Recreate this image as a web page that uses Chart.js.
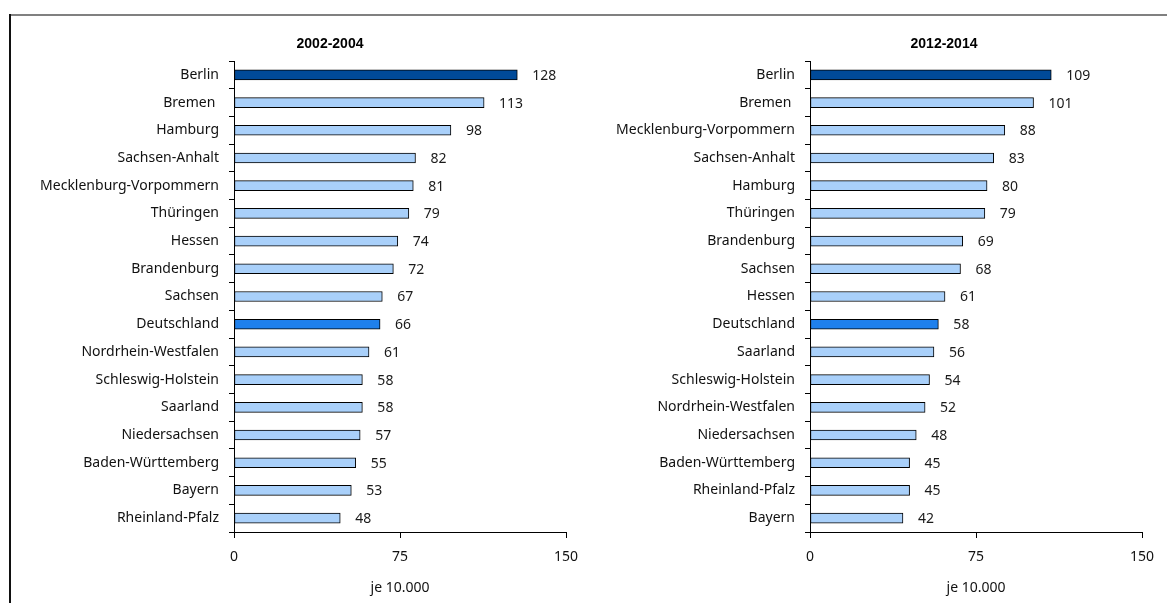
<!DOCTYPE html>
<html>
<head>
<meta charset="utf-8">
<script src="https://cdn.jsdelivr.net/npm/chart.js@4.4.1/dist/chart.umd.min.js"></script>
<style>
  html, body { margin: 0; padding: 0; background: #ffffff; }
  body { width: 1167px; height: 603px; position: relative; overflow: hidden; }
  .frameTop { position: absolute; left: 9px; top: 14px; width: 1158px; height: 2px; background: #808080; }
  .frameLeft { position: absolute; left: 9px; top: 14px; width: 2px; height: 589px; background: #111111; }
  #wrapL { position: absolute; left: 0; top: 0; width: 590px; height: 603px; }
  #wrapR { position: absolute; left: 590px; top: 0; width: 577px; height: 603px; }
</style>
</head>
<body>
<div class="frameTop"></div>
<div class="frameLeft"></div>
<div id="wrapL"><canvas id="cL"></canvas></div>
<div id="wrapR"><canvas id="cR"></canvas></div>
<script>
// ---- Data ----
const titleLeft = "2002-2004";
const titleRight = "2012-2014";
const axisTitle = "je 10.000";
const xTicks = [0, 75, 150];

const categoriesLeft = ["Berlin", "Bremen ", "Hamburg", "Sachsen-Anhalt", "Mecklenburg-Vorpommern", "Thüringen", "Hessen", "Brandenburg", "Sachsen", "Deutschland", "Nordrhein-Westfalen", "Schleswig-Holstein", "Saarland", "Niedersachsen", "Baden-Württemberg", "Bayern", "Rheinland-Pfalz"];
const valuesLeft = [128, 113, 98, 82, 81, 79, 74, 72, 67, 66, 61, 58, 58, 57, 55, 53, 48];

const categoriesRight = ["Berlin", "Bremen ", "Mecklenburg-Vorpommern", "Sachsen-Anhalt", "Hamburg", "Thüringen", "Brandenburg", "Sachsen", "Hessen", "Deutschland", "Saarland", "Schleswig-Holstein", "Nordrhein-Westfalen", "Niedersachsen", "Baden-Württemberg", "Rheinland-Pfalz", "Bayern"];
const valuesRight = [109, 101, 88, 83, 80, 79, 69, 68, 61, 58, 56, 54, 52, 48, 45, 45, 42];

// ---- Styling ----
const COL_BERLIN = "#004a99";
const COL_DE = "#1f80ec";
const COL_OTHER = "#a9d0fa";
const LABEL_FONT = { family: "'Noto Sans', sans-serif", size: 14 };

function colorsFor(cats) {
  return cats.map(c => c.trim() === "Berlin" ? COL_BERLIN : (c.trim() === "Deutschland" ? COL_DE : COL_OTHER));
}

const valueLabels = {
  id: "valueLabels",
  afterDatasetsDraw(chart) {
    const ctx = chart.ctx;
    const meta = chart.getDatasetMeta(0);
    const data = chart.data.datasets[0].data;
    ctx.save();
    ctx.font = LABEL_FONT.size + "px " + LABEL_FONT.family;
    ctx.fillStyle = "#1a1a1a";
    ctx.textAlign = "left";
    ctx.textBaseline = "middle";
    meta.data.forEach((bar, i) => {
      ctx.fillText(String(data[i]), bar.x + 15, bar.y + 1);
    });
    ctx.restore();
  }
};

const panelTitle = {
  id: "panelTitle",
  afterDraw(chart, args, opts) {
    const ctx = chart.ctx;
    ctx.save();
    ctx.font = "bold 14px 'Liberation Sans', Arial, sans-serif";
    ctx.fillStyle = "#000000";
    ctx.textAlign = "center";
    ctx.textBaseline = "middle";
    ctx.fillText(opts.text, opts.x, opts.y);
    ctx.restore();
  }
};

function makeChart(id, cats, vals, title, yWidth, padRight, titleX) {
  return new Chart(document.getElementById(id), {
    type: "bar",
    data: {
      labels: cats,
      datasets: [{
        data: vals,
        backgroundColor: colorsFor(cats),
        borderColor: "#000000",
        borderWidth: 1,
        barThickness: 10,
        borderSkipped: false
      }]
    },
    options: {
      indexAxis: "y",
      responsive: true,
      maintainAspectRatio: false,
      animation: false,
      layout: { padding: { top: 61, right: padRight, left: 0, bottom: 0 } },
      plugins: {
        legend: { display: false },
        tooltip: { enabled: false },
        title: { display: false },
        panelTitle: { text: title, x: titleX, y: 44 }
      },
      scales: {
        x: {
          min: 0, max: 150,
          afterBuildTicks(scale) { scale.ticks = xTicks.map(v => ({ value: v })); },
          afterFit(scale) { scale.height = 71; },
          border: { display: true, color: "#000000", width: 1 },
          grid: { drawOnChartArea: false, drawTicks: true, tickLength: 6, color: "#000000" },
          ticks: { color: "#111111", font: LABEL_FONT, padding: 11, maxRotation: 0 },
          title: { display: true, text: axisTitle, color: "#111111", font: LABEL_FONT, padding: { top: 0, bottom: 7 } }
        },
        y: {
          afterFit(scale) { scale.width = yWidth; },
          border: { display: true, color: "#000000", width: 1 },
          grid: { drawOnChartArea: false, drawTicks: true, tickLength: 5, color: "#000000", offset: true },
          ticks: { color: "#111111", font: LABEL_FONT, padding: 10, autoSkip: false }
        }
      }
    },
    plugins: [valueLabels, panelTitle]
  });
}

makeChart("cL", categoriesLeft, valuesLeft, titleLeft, 234, 24, 330);
makeChart("cR", categoriesRight, valuesRight, titleRight, 220, 25, 354);
</script>
</body>
</html>
